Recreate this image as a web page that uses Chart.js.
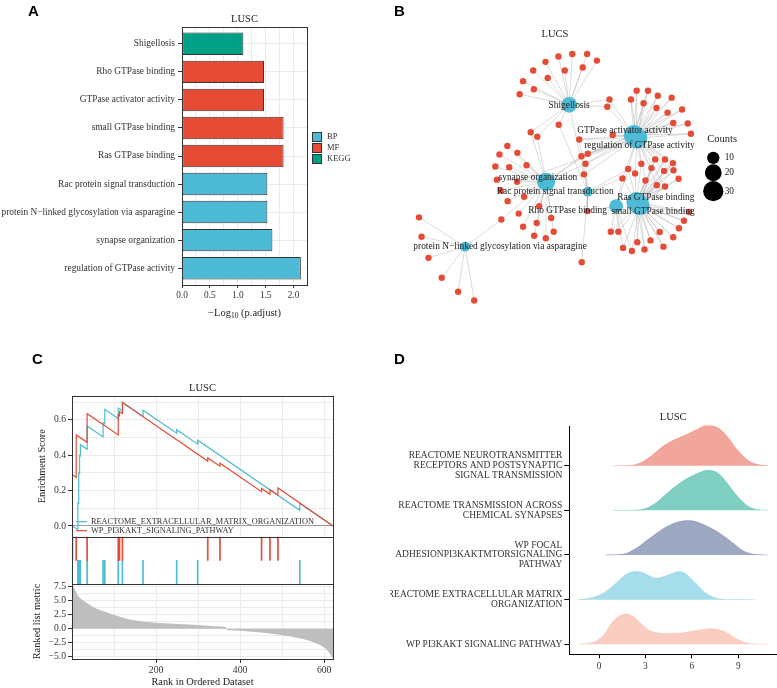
<!DOCTYPE html>
<html>
<head>
<meta charset="utf-8">
<script src="https://cdn.jsdelivr.net/npm/chart.js@4.4.1/dist/chart.umd.min.js"></script>
<style>
  body { margin: 0; background: #fff; }
  #wrap { position: relative; width: 777px; height: 688px; overflow: hidden; }
  canvas { position: absolute; }
  .tag { position: absolute; font: bold 15px 'Liberation Sans Narrow', 'Liberation Sans', sans-serif; color: #000; }
</style>
</head>
<body>
<div id="wrap">
  <canvas id="chartA" width="390" height="320" style="left:0;top:0"></canvas>
  <canvas id="chartB" width="387" height="320" style="left:390px;top:0"></canvas>
  <canvas id="chartC1" width="390" height="348" style="left:0;top:340px"></canvas>
  <canvas id="chartC2" width="390" height="348" style="left:0;top:340px"></canvas>
  <canvas id="chartC3" width="390" height="348" style="left:0;top:340px"></canvas>
  <canvas id="chartD" width="387" height="348" style="left:390px;top:340px"></canvas>
  <div class="tag" style="left:28px;top:2px">A</div>
  <div class="tag" style="left:394px;top:2px">B</div>
  <div class="tag" style="left:32px;top:350px">C</div>
  <div class="tag" style="left:394px;top:350px">D</div>
</div>
<script>
// ---- A: enrichment bars ----
const goTerms = ['Shigellosis', 'Rho GTPase binding', 'GTPase activator activity', 'small GTPase binding',
  'Ras GTPase binding', 'Rac protein signal transduction', 'protein N\u2212linked glycosylation via asparagine',
  'synapse organization', 'regulation of GTPase activity'];
const goLogP = [1.10, 1.47, 1.47, 1.82, 1.82, 1.53, 1.53, 1.62, 2.13];
const goSource = ['KEGG', 'MF', 'MF', 'MF', 'MF', 'BP', 'BP', 'BP', 'BP'];
const sourceNames = ['BP', 'MF', 'KEGG'];
const xTicksA = [0, 0.25, 0.5, 0.75, 1, 1.25, 1.5, 1.75, 2];

// ---- B: gene-concept network (layout units) ----
const hubNames = ['Shigellosis', 'GTPase activator activity', 'regulation of GTPase activity',
  'synapse organization', 'Rac protein signal transduction', 'Rho GTPase binding',
  'Ras GTPase binding', 'small GTPase binding', 'protein N\u2212linked glycosylation via asparagine'];
const hubX = [535, 740, 750, 462, 594, 684, 748, 758, 205];
const hubY = [303, 400, 410, 550, 582, 628, 615, 625, 758];
const hubCount = [17, 30, 32, 24, 6, 13, 29, 30, 6];
const geneX = [460, 501, 545, 592, 623, 421, 521, 578, 389, 467, 378, 423, 502, 413, 434, 663, 656, 749, 785, 731,
  771, 816, 860, 812, 847, 893, 865, 911, 921, 673, 567, 574, 594, 587, 582, 764, 808, 839, 864, 722,
  744, 796, 836, 866, 704, 777, 813, 839, 882, 915, 899, 883, 865, 822, 793, 834, 774, 751, 734, 706,
  691, 667, 593, 575, 339, 371, 314, 400, 301, 345, 306, 370, 318, 340, 392, 440, 375, 478, 432, 389,
  486, 424, 461, 320, 59, 67, 89, 131, 183, 234];
const geneY = [165, 148, 140, 140, 161, 193, 193, 183, 227, 217, 269, 253, 367, 391, 405, 286, 309, 258, 258, 286,
  298, 274, 280, 313, 328, 318, 361, 363, 396, 400, 414, 468, 460, 492, 526, 492, 478, 478, 490, 509,
  523, 506, 515, 513, 539, 546, 561, 565, 540, 647, 675, 699, 728, 711, 738, 758, 767, 744, 772, 762,
  710, 710, 644, 808, 435, 457, 462, 497, 501, 503, 543, 550, 578, 612, 598, 628, 652, 666, 682, 694,
  710, 723, 731, 671, 664, 726, 794, 858, 903, 931];
const hubGenes = [
  [0, 1, 2, 3, 4, 5, 6, 7, 8, 9, 10, 11, 12, 13, 14, 15, 16, 34],
  [15, 16, 17, 18, 19, 20, 21, 22, 23, 24, 25, 26, 27, 28, 29, 30, 31, 32, 33, 35, 36, 37, 38, 41, 42, 43],
  [17, 18, 19, 20, 21, 22, 23, 24, 25, 26, 27, 28, 29, 30, 31, 32, 33, 34, 39, 40, 44, 45, 46, 47, 48, 71],
  [13, 14, 31, 32, 33, 34, 64, 65, 66, 67, 68, 69, 70, 71, 72, 73, 74, 75, 76, 77, 78, 79, 80, 81, 82, 83],
  [12, 30, 33, 34, 39, 44, 62, 63],
  [39, 44, 58, 59, 60, 61, 62],
  [35, 36, 37, 38, 39, 40, 41, 42, 43, 44, 45, 46, 47, 48, 49, 50, 51, 52, 53, 54, 55, 56, 57],
  [36, 37, 38, 41, 42, 43, 45, 46, 47, 48, 49, 50, 51, 52, 53, 54, 55, 56, 57, 58, 59, 60, 61],
  [83, 84, 85, 86, 87, 88, 89]
];
const countBreaks = [10, 20, 30];

// ---- C: GSEA running scores ----
const gseaNames = ['REACTOME_EXTRACELLULAR_MATRIX_ORGANIZATION', 'WP_PI3KAKT_SIGNALING_PATHWAY'];
const ecmRank = [1, 14, 14, 16, 16, 18, 18, 20, 20, 36, 36, 74, 74, 78, 78, 110, 110, 120, 120, 169, 169, 249, 249, 299, 299, 542, 542, 621];
const ecmES = [0.0, -0.021, 0.13, 0.127, 0.30, 0.297, 0.40, 0.397, 0.46, 0.434, 0.566, 0.504, 0.585, 0.578, 0.66, 0.608,
  0.667, 0.651, 0.70, 0.62, 0.655, 0.525, 0.545, 0.463, 0.485, 0.089, 0.129, 0.0];
const pi3kRank = [1, 10, 10, 36, 36, 110, 110, 113, 113, 120, 120, 323, 323, 352, 352, 451, 451, 471, 471, 490, 490, 621];
const pi3kES = [0.29, 0.275, 0.515, 0.473, 0.635, 0.515, 0.628, 0.623, 0.647, 0.636, 0.698, 0.367, 0.385, 0.338, 0.355,
  0.194, 0.212, 0.179, 0.205, 0.174, 0.215, 0.0];
const ecmHits = [14, 16, 18, 20, 36, 74, 78, 110, 120, 169, 249, 299, 542];
const pi3kHits = [1, 10, 36, 110, 113, 120, 323, 352, 451, 471, 490];
const metricRank = [1, 4, 8, 12, 16, 20, 36, 52, 68, 99, 131, 171, 210, 289, 330, 366, 368, 400, 450, 490, 520, 550, 570, 590, 603, 612, 618, 621];
const metricValue = [7.8, 7.4, 6.8, 6.2, 5.7, 5.4, 4.55, 3.8, 3.3, 2.5, 1.75, 1.25, 1.0, 0.7, 0.5, 0.35, -0.25, -0.38,
  -0.68, -1.05, -1.4, -1.85, -2.3, -2.9, -3.5, -4.3, -5.0, -5.3];
const rankTicks = [100, 200, 300, 400, 500, 600];
const esTicks = [0, 0.1, 0.2, 0.3, 0.4, 0.5, 0.6, 0.7];
const metricTicks = [-5, -3.75, -2.5, -1.25, 0, 1.25, 2.5, 3.75, 5, 6.25, 7.5];

// ---- D: ridgelines ----
const ridgeLabels = [
  ['REACTOME NEUROTRANSMITTER', 'RECEPTORS AND POSTSYNAPTIC', 'SIGNAL TRANSMISSION'],
  ['REACTOME TRANSMISSION ACROSS', 'CHEMICAL SYNAPSES'],
  ['WP FOCAL', 'ADHESIONPI3KAKTMTORSIGNALING', 'PATHWAY'],
  ['REACTOME EXTRACELLULAR MATRIX', 'ORGANIZATION'],
  ['WP PI3KAKT SIGNALING PATHWAY']
];
const neuroX = [0.9, 2.0, 2.5, 3.0, 3.7, 4.2, 4.8, 5.4, 5.9, 6.5, 7.0, 7.4, 7.8, 8.3, 8.9, 9.6, 10.2, 10.9];
const neuroH = [0, 0.005, 0.04, 0.12, 0.31, 0.45, 0.57, 0.66, 0.74, 0.84, 0.91, 0.89, 0.82, 0.65, 0.37, 0.13, 0.03, 0];
const synX = [0.9, 2.5, 3.0, 3.7, 4.2, 4.8, 5.4, 5.9, 6.5, 7.0, 7.4, 7.8, 8.3, 8.9, 9.6, 10.2, 10.9];
const synH = [0, 0.005, 0.04, 0.17, 0.32, 0.50, 0.65, 0.75, 0.85, 0.90, 0.88, 0.80, 0.60, 0.33, 0.10, 0.02, 0];
const focalX = [0.4, 1.6, 2.4, 3.3, 4.2, 5.0, 5.8, 6.7, 7.6, 8.5, 9.4, 10.2, 10.9];
const focalH = [0, 0.02, 0.15, 0.38, 0.60, 0.73, 0.77, 0.69, 0.53, 0.31, 0.08, 0.01, 0];
const ecmX = [-1.35, -0.6, 0.3, 1.1, 1.7, 2.3, 2.8, 3.1, 3.7, 4.3, 4.9, 5.2, 5.6, 5.9, 6.4, 6.8, 7.6, 8.5, 10.1];
const ecmH = [0, 0.03, 0.15, 0.37, 0.55, 0.63, 0.61, 0.56, 0.48, 0.53, 0.61, 0.63, 0.58, 0.48, 0.31, 0.17, 0.03, 0.003, 0];
const pi3kX = [-1.35, -0.4, 0.3, 0.9, 1.4, 1.8, 2.2, 2.7, 3.1, 3.9, 4.6, 5.2, 6.3, 7.2, 7.8, 8.3, 8.9, 9.7, 10.9];
const pi3kH = [0, 0.04, 0.21, 0.51, 0.65, 0.68, 0.62, 0.47, 0.34, 0.25, 0.24, 0.25, 0.31, 0.35, 0.32, 0.25, 0.12, 0.02, 0];
const ridgeXTicks = [0, 3, 6, 9];

// ---- shared look ----
const RED = '#E64B35', BLUE = '#4DBBD5', GREEN = '#00A087', NAVY = '#3C5488', PEACH = '#F39B7F';
const sourceColor = { BP: BLUE, MF: RED, KEGG: GREEN };
const SERIF = "'Liberation Serif', 'DejaVu Serif', 'Times New Roman', serif";
Chart.defaults.font.family = SERIF;
Chart.defaults.color = '#333';
Chart.defaults.animation = false;
Chart.defaults.plugins.legend.display = false;
Chart.defaults.plugins.tooltip.enabled = false;

const setTicks = vals => scale => { scale.ticks = vals.map(v => ({ value: v })); };
const fixWidth = w => scale => { scale.width = w; };
const fixHeight = h => scale => { scale.height = h; };
const hubRadius = c => 0.8 + 1.7 * Math.sqrt(c);
const alpha = (hex, a) => {
  const n = parseInt(hex.slice(1), 16);
  return `rgba(${n >> 16},${(n >> 8) & 255},${n & 255},${a})`;
};
const minus = v => (v < 0 ? '\u2212' : '') + Math.abs(v).toFixed(1);

const frame = {
  id: 'frame',
  afterDatasetsDraw(chart) {
    const { ctx, chartArea: a } = chart;
    ctx.save();
    ctx.strokeStyle = '#333';
    ctx.lineWidth = 1;
    const l = Math.round(a.left) + 0.5, t = Math.round(a.top) + 0.5;
    ctx.strokeRect(l, t, Math.round(a.right) - Math.round(a.left), Math.round(a.bottom) - Math.round(a.top));
    ctx.restore();
  }
};

// ---------- A ----------
const sourceLegend = {
  id: 'sourceLegend',
  afterDraw(chart) {
    const { ctx, chartArea: a } = chart;
    const x = Math.round(a.right) + 5;
    const y0 = Math.round((a.top + a.bottom) / 2) - 24;
    ctx.save();
    ctx.font = '8.5px ' + SERIF;
    ctx.textBaseline = 'middle';
    sourceNames.forEach((s, i) => {
      const y = y0 + i * 11;
      ctx.fillStyle = sourceColor[s];
      ctx.fillRect(x, y, 9, 9);
      ctx.strokeStyle = '#333';
      ctx.lineWidth = 1;
      ctx.strokeRect(x + 0.5, y + 0.5, 9, 9);
      ctx.fillStyle = '#333';
      ctx.fillText(s, x + 15, y + 5);
    });
    ctx.restore();
  }
};
const logTitle = {
  id: 'logTitle',
  afterDraw(chart) {
    const { ctx, chartArea: a } = chart;
    const cx = (a.left + a.right) / 2, cy = a.bottom + 28;
    const big = '10.5px ' + SERIF, small = '7.5px ' + SERIF;
    ctx.save();
    ctx.fillStyle = '#222';
    ctx.textBaseline = 'middle';
    ctx.textAlign = 'left';
    ctx.font = big;
    const w1 = ctx.measureText('\u2212Log').width, w3 = ctx.measureText(' (p.adjust)').width;
    ctx.font = small;
    const w2 = ctx.measureText('10').width;
    const x0 = cx - (w1 + w2 + w3) / 2;
    ctx.font = big; ctx.fillText('\u2212Log', x0, cy);
    ctx.font = small; ctx.fillText('10', x0 + w1, cy + 3);
    ctx.font = big; ctx.fillText(' (p.adjust)', x0 + w1 + w2, cy);
    ctx.restore();
  }
};
new Chart(document.getElementById('chartA'), {
  type: 'bar',
  data: {
    datasets: [{
      data: goLogP.map((v, i) => ({ x: v, y: i })),
      backgroundColor: goSource.map(s => sourceColor[s]),
      borderColor: '#333',
      borderWidth: 1,
      borderSkipped: false,
      barPercentage: 0.8,
      categoryPercentage: 1
    }]
  },
  options: {
    responsive: false,
    indexAxis: 'y',
    layout: { padding: { right: 83 } },
    scales: {
      x: {
        type: 'linear', min: 0, max: 2.24,
        afterBuildTicks: setTicks(xTicksA),
        ticks: { callback: v => (Math.round(v * 4) % 2 === 0 ? v.toFixed(1) : ''), font: { size: 9.3 }, padding: 2, autoSkip: false, maxRotation: 0 },
        grid: { color: '#EBEBEB', tickLength: 3, tickColor: c => (c.tick && Math.round(c.tick.value * 4) % 2 === 0 ? '#333' : 'rgba(0,0,0,0)') },
        border: { display: false },
        afterFit: fixHeight(35)
      },
      y: {
        type: 'linear', min: -0.6, max: 8.6, reverse: true, offset: false,
        afterBuildTicks: setTicks(goTerms.map((_, i) => i)),
        ticks: { callback: v => goTerms[v], font: { size: 9.4 }, padding: 3, autoSkip: false },
        grid: { offset: false, color: '#EBEBEB', tickColor: '#333', tickLength: 4 },
        border: { display: false },
        afterFit: fixWidth(182)
      }
    },
    plugins: {
      title: { display: true, text: 'LUSC', fullSize: false, color: '#222', font: { size: 10.5, weight: 'normal' }, padding: { top: 13, bottom: 1.4 } }
    }
  },
  plugins: [frame, sourceLegend, logTitle]
});

// ---------- B ----------
const edgePoints = [];
hubGenes.forEach((genes, h) => {
  genes.forEach(g => {
    edgePoints.push({ x: hubX[h], y: hubY[h] }, { x: geneX[g], y: geneY[g] }, { x: NaN, y: NaN });
  });
});
const netLabels = {
  id: 'netLabels',
  afterDatasetsDraw(chart, args, opts) {
    const { ctx, scales: { x, y } } = chart;
    const px = v => x.getPixelForValue(v), py = v => y.getPixelForValue(v);
    ctx.save();
    ctx.textAlign = 'center';
    ctx.textBaseline = 'middle';
    ctx.fillStyle = '#222';
    ctx.font = '9.4px ' + SERIF;
    hubNames.forEach((name, i) => {
      const p = opts.labelPos[i];
      ctx.fillText(name, px(p[0]), py(p[1]));
    });
    ctx.font = '10.5px ' + SERIF;
    ctx.fillText('LUCS', px(490), py(78));
    ctx.fillText('Counts', px(1020), py(413));
    ctx.font = '9.4px ' + SERIF;
    countBreaks.forEach((c, i) => {
      const cy = py(opts.legendY[i]);
      ctx.beginPath();
      ctx.arc(px(992), cy, hubRadius(c), 0, Math.PI * 2);
      ctx.fillStyle = '#000';
      ctx.fill();
      ctx.fillStyle = '#222';
      ctx.textAlign = 'left';
      ctx.fillText(String(c), px(1028), cy);
    });
    ctx.restore();
  }
};
new Chart(document.getElementById('chartB'), {
  type: 'scatter',
  data: {
    datasets: [
      { data: hubX.map((v, i) => ({ x: v, y: hubY[i] })), pointRadius: hubCount.map(hubRadius), backgroundColor: BLUE, borderWidth: 0, order: 1 },
      { data: geneX.map((v, i) => ({ x: v, y: geneY[i] })), pointRadius: 3.2, backgroundColor: RED, borderWidth: 0, order: 2 },
      { data: edgePoints, showLine: true, spanGaps: false, pointRadius: 0, borderColor: 'rgba(175,175,175,0.5)', borderWidth: 0.9, order: 3 }
    ]
  },
  options: {
    responsive: false,
    layout: { padding: 0 },
    scales: {
      x: { type: 'linear', min: 0, max: 1161, display: false },
      y: { type: 'linear', min: 0, max: 960, reverse: true, display: false }
    },
    plugins: {
      netLabels: {
        labelPos: [[535, 305], [712, 385], [758, 432], [436, 536], [491, 581], [530, 641], [810, 600], [801, 646], [316, 758]],
        legendY: [473, 521, 580]
      }
    }
  },
  plugins: [netLabels]
});

// ---------- C ----------
const esLegend = {
  id: 'esLegend',
  afterDraw(chart) {
    const { ctx, chartArea: a } = chart;
    ctx.save();
    ctx.font = '8.3px ' + SERIF;
    ctx.textBaseline = 'middle';
    [[BLUE, gseaNames[0], 15], [RED, gseaNames[1], 6]].forEach(([col, txt, off]) => {
      const y = a.bottom - off;
      ctx.strokeStyle = col;
      ctx.lineWidth = 1.2;
      ctx.beginPath();
      ctx.moveTo(a.left + 4, y);
      ctx.lineTo(a.left + 15, y);
      ctx.stroke();
      ctx.fillStyle = '#333';
      ctx.fillText(txt, a.left + 19, y);
    });
    ctx.restore();
  }
};
const majorTick = (c, test) => (c.tick && test(c.tick.value) ? '#333' : 'rgba(0,0,0,0)');

new Chart(document.getElementById('chartC1'), {
  type: 'line',
  data: {
    datasets: [
      { data: pi3kRank.map((r, i) => ({ x: r, y: pi3kES[i] })), borderColor: RED, borderWidth: 1.2, pointRadius: 0 },
      { data: ecmRank.map((r, i) => ({ x: r, y: ecmES[i] })), borderColor: BLUE, borderWidth: 1.2, pointRadius: 0 }
    ]
  },
  options: {
    responsive: false,
    layout: { padding: { right: 57, bottom: 151.3 } },
    scales: {
      x: {
        type: 'linear', min: 0, max: 621,
        afterBuildTicks: setTicks(rankTicks),
        ticks: { display: false },
        grid: { color: '#EBEBEB', drawTicks: false },
        border: { display: false },
        afterFit: fixHeight(0)
      },
      y: {
        type: 'linear', min: -0.0606, max: 0.737,
        afterBuildTicks: setTicks(esTicks),
        ticks: { callback: v => ([0, 0.2, 0.4, 0.6].includes(v) ? v.toFixed(1) : ''), font: { size: 9.7 }, padding: 2, autoSkip: false },
        grid: {
          color: c => (c.tick && c.tick.value === 0 ? '#9A9A9A' : '#EBEBEB'),
          tickLength: 4,
          tickColor: c => majorTick(c, v => [0, 0.2, 0.4, 0.6].includes(v))
        },
        border: { display: false },
        title: { display: true, text: 'Enrichment Score', color: '#222', font: { size: 10.3 }, padding: { top: 36, bottom: 0 } },
        afterFit: fixWidth(72)
      }
    },
    plugins: {
      title: { display: true, text: 'LUSC', fullSize: false, color: '#222', font: { size: 10.5, weight: 'normal' }, padding: { top: 42, bottom: 1.1 } }
    }
  },
  plugins: [frame, esLegend]
});

new Chart(document.getElementById('chartC2'), {
  type: 'bar',
  data: {
    datasets: [
      { data: pi3kHits.map(r => ({ x: r, y: [1, 2] })), backgroundColor: RED, barThickness: 1, grouped: false },
      { data: ecmHits.map(r => ({ x: r, y: [0, 1] })), backgroundColor: BLUE, barThickness: 1, grouped: false }
    ]
  },
  options: {
    responsive: false,
    layout: { padding: { left: 72, right: 57, top: 196.7, bottom: 104 } },
    scales: {
      x: { type: 'linear', min: 0, max: 621, display: false, offset: false, grid: { offset: false } },
      y: { type: 'linear', min: 0, max: 2, display: false }
    }
  },
  plugins: [frame]
});

new Chart(document.getElementById('chartC3'), {
  type: 'line',
  data: {
    datasets: [{
      data: metricRank.map((r, i) => ({ x: r, y: metricValue[i] })),
      fill: 'origin', backgroundColor: '#BEBEBE', borderColor: 'rgba(0,0,0,0)', borderWidth: 0, pointRadius: 0
    }]
  },
  options: {
    responsive: false,
    layout: { padding: { right: 57, top: 244 } },
    scales: {
      x: {
        type: 'linear', min: 0, max: 621,
        afterBuildTicks: setTicks(rankTicks),
        ticks: { callback: v => (v % 200 === 0 ? String(v) : ''), font: { size: 9.7 }, padding: 2, autoSkip: false, maxRotation: 0 },
        grid: { color: '#EBEBEB', tickLength: 4, tickColor: c => majorTick(c, v => v % 200 === 0) },
        border: { display: false },
        title: { display: true, text: 'Rank in Ordered Dataset', color: '#222', font: { size: 10.3 }, padding: { top: 0, bottom: 0 } },
        afterFit: fixHeight(29)
      },
      y: {
        type: 'linear', min: -5.41, max: 7.98,
        afterBuildTicks: setTicks(metricTicks),
        ticks: { callback: v => (Math.round(v / 1.25) % 2 === 0 ? minus(v) : ''), font: { size: 9.7 }, padding: 2, autoSkip: false },
        grid: { color: '#EBEBEB', tickLength: 4, tickColor: c => majorTick(c, v => Math.round(v / 1.25) % 2 === 0) },
        border: { display: false },
        title: { display: true, text: 'Ranked list metric', color: '#222', font: { size: 10.3 }, padding: { top: 31, bottom: 0 } },
        afterFit: fixWidth(72)
      }
    }
  },
  plugins: [frame]
});

// ---------- D ----------
const ridges = [
  { x: pi3kX, h: pi3kH, base: 1, color: PEACH },
  { x: ecmX, h: ecmH, base: 2, color: BLUE },
  { x: focalX, h: focalH, base: 3, color: NAVY },
  { x: synX, h: synH, base: 4, color: GREEN },
  { x: neuroX, h: neuroH, base: 5, color: RED }
];
new Chart(document.getElementById('chartD'), {
  type: 'line',
  data: {
    datasets: ridges.map(r => ({
      data: r.x.map((v, i) => ({ x: v, y: r.base + r.h[i] })),
      fill: { value: r.base },
      backgroundColor: alpha(r.color, 0.5),
      borderColor: alpha(r.color, 0.45),
      borderWidth: 0.6,
      pointRadius: 0,
      cubicInterpolationMode: 'monotone',
      clip: false
    }))
  },
  options: {
    responsive: false,
    layout: { padding: 0 },
    scales: {
      x: {
        type: 'linear', min: -1.92, max: 11.5,
        afterBuildTicks: setTicks(ridgeXTicks),
        ticks: { font: { size: 9.3 }, padding: 3, autoSkip: false, maxRotation: 0 },
        grid: { drawOnChartArea: false, color: '#000', tickLength: 4 },
        border: { display: true, color: '#000', width: 1 },
        afterFit: fixHeight(33.7)
      },
      y: {
        type: 'linear', min: 0.776, max: 5.889,
        afterBuildTicks: setTicks([1, 2, 3, 4, 5]),
        ticks: { callback: v => ridgeLabels[5 - v], font: { size: 9.5, lineHeight: 1.05 }, padding: 2, autoSkip: false },
        grid: { drawOnChartArea: false, color: '#000', tickLength: 5 },
        border: { display: true, color: '#000', width: 1 },
        afterFit: fixWidth(179.3)
      }
    },
    plugins: {
      title: { display: true, text: 'LUSC', fullSize: false, color: '#222', font: { size: 10.5, weight: 'normal' }, padding: { top: 71, bottom: 2.4 } }
    }
  }
});
</script>
</body>
</html>
